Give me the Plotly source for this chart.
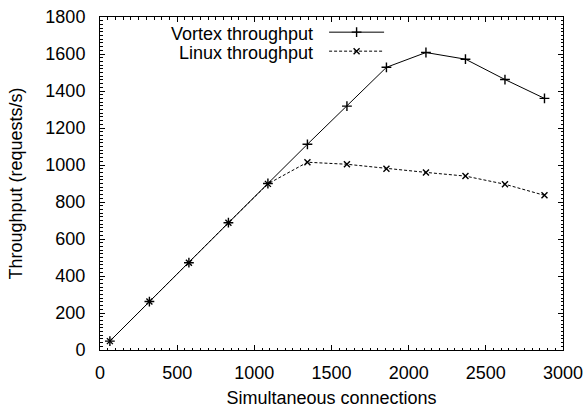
import plotly.graph_objects as go

connections = [64, 320, 576, 832, 1088, 1344, 1600, 1856, 2112, 2368, 2624, 2880]
vortex = [48, 262, 472, 688, 900, 1112, 1318, 1528, 1608, 1572, 1462, 1360]
linux = [48, 262, 472, 688, 898, 1015, 1004, 980, 960, 940, 896, 836]
series_names = ["Vortex throughput", "Linux throughput"]

FONT = "Liberation Sans, Arial, Helvetica, sans-serif"

fig = go.Figure()
fig.add_trace(go.Scatter(
    x=connections, y=vortex, mode="lines+markers", name=" ",
    line=dict(color="black", width=1),
    marker=dict(symbol="cross-thin", size=7, line=dict(color="black", width=1.4)),
))
fig.add_trace(go.Scatter(
    x=connections, y=linux, mode="lines+markers", name=" ",
    line=dict(color="black", width=1, dash="3px,2px"),
    marker=dict(symbol="x-thin", size=6, line=dict(color="black", width=1.4)),
))

axis_common = dict(
    showgrid=False, zeroline=False, showline=True, linecolor="black", linewidth=1,
    ticks="inside", ticklen=5, tickcolor="black", tickwidth=1, mirror="allticks",
    tickfont=dict(family=FONT, size=18, color="black"), automargin=False,
)

fig.update_xaxes(range=[0, 3000], dtick=500, tick0=0,
                 minor=dict(dtick=50, ticks="inside", ticklen=2.5, tickcolor="black"),
                 title=dict(text="Simultaneous connections", font=dict(family=FONT, size=18, color="black"), standoff=9),
                 ticklabelstandoff=6,
                 **axis_common)
fig.update_yaxes(range=[0, 1800], dtick=200, tick0=0,
                 minor=dict(dtick=20, ticks="inside", ticklen=2.5, tickcolor="black"),
                 title=dict(text="Throughput (requests/s)", font=dict(family=FONT, size=18, color="black"), standoff=18),
                 ticklabelstandoff=10,
                 **axis_common)

label_y = [0.948, 0.893]
for name, yy in zip(series_names, label_y):
    fig.add_annotation(text=name, xref="paper", yref="paper", x=0.464, y=yy,
                       xanchor="right", yanchor="middle", showarrow=False,
                       font=dict(family=FONT, size=18, color="black"))

fig.update_layout(
    width=586, height=410,
    margin=dict(l=100, r=23, t=17, b=60),
    plot_bgcolor="white", paper_bgcolor="white",
    font=dict(family=FONT, size=18, color="black"),
    legend=dict(x=0.484, y=0.998, xanchor="left", yanchor="top", bgcolor="rgba(0,0,0,0)",
                itemwidth=55, tracegroupgap=0, font=dict(size=11)),
)

fig.write_html("out.html", config={"displayModeBar": False},
               post_script="document.body.style.margin='0';")
